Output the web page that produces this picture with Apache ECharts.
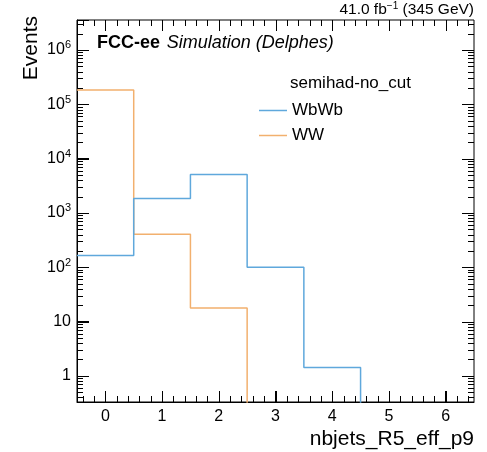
<!DOCTYPE html>
<html>
<head>
<meta charset="utf-8">
<script src="https://cdn.jsdelivr.net/npm/echarts@6/dist/echarts.min.js"></script>
<style>
  html, body { margin: 0; padding: 0; background: #fff; }
  #chart { width: 487px; height: 452px; }
</style>
</head>
<body>
<div id="chart"></div>
<script>
// 直方图数据（每个bin一个值）
const binCenters = [0, 1, 2, 3, 4, 5, 6];
const wbwbValues = [165, 1850, 5100, 100, 1.43, 0, 0];
const wwValues = [183000, 405, 17.7, 0, 0, 0, 0];

// 坐标轴刻度
const xMajorTicks = [0, 1, 2, 3, 4, 5, 6];
const yLabelTicks = [1, 10, 100, 1000, 10000, 100000, 1000000];

const yMin = 0.33;
const yMax = 3.56e6;
const xMin = -0.5;
const xMax = 6.5;

const font = '"Liberation Sans", Arial, Helvetica, sans-serif';
const blue = '#5fa8dc';
const orange = '#f2b06e';

// x次刻度：每0.2一个
const xMinorTicks = [];
for (let i = -2; i <= 32; i++) {
    const v = Math.round(i * 2) / 10;
    if (v > xMin && v < xMax && Math.abs(v - Math.round(v)) > 1e-6) xMinorTicks.push(v);
}
// y次刻度：2..9 × 10^k
const yMinorTicks = [];
for (let k = -1; k <= 6; k++) {
    for (let m = 2; m <= 9; m++) {
        const v = m * Math.pow(10, k);
        if (v > yMin && v < yMax) yMinorTicks.push(v);
    }
}

// 刻度列表：[值, 长度, 边]  边：0下 1上 2左 3右
const tickItems = [];
[0, 1].forEach(side => {
    xMajorTicks.forEach(v => tickItems.push([v, 11, side]));
    xMinorTicks.forEach(v => tickItems.push([v, 6, side]));
});
[2, 3].forEach(side => {
    yLabelTicks.forEach(v => tickItems.push([v, 12, side]));
    yMinorTicks.forEach(v => tickItems.push([v, 6, side]));
});

// 把bin值转成阶梯线的点（0值放到坐标范围以外，被裁掉）
function stepPoints(values) {
    const pts = values.map((v, i) => [binCenters[i] - 0.5, v > 0 ? v : yMin / 10]);
    const last = pts[pts.length - 1];
    pts.push([binCenters[binCenters.length - 1] + 0.5, last[1]]);
    return pts;
}

// 四边向内的刻度（ROOT风格）
function renderTick(params, api) {
    const cs = params.coordSys;
    const v = api.value(0), len = api.value(1), side = api.value(2);
    const style = { stroke: '#000', lineWidth: 1, opacity: 1 };
    if (side < 2) {
        const x = Math.round(api.coord([v, 1])[0]) + 0.5;
        const y0 = side === 0 ? cs.y + cs.height : cs.y;
        const y1 = side === 0 ? y0 - len : y0 + len;
        return { type: 'line', shape: { x1: x, y1: y0, x2: x, y2: y1 }, style: style };
    }
    const y = Math.round(api.coord([0, v])[1]) + 0.5;
    const x0 = side === 2 ? cs.x : cs.x + cs.width;
    const x1 = side === 2 ? x0 + len : x0 - len;
    return { type: 'line', shape: { x1: x0, y1: y, x2: x1, y2: y }, style: style };
}

const chart = echarts.init(document.getElementById('chart'));

chart.setOption({
    backgroundColor: '#fff',
    animation: false,
    grid: { left: 77, right: 13, top: 20, bottom: 50,
        show: true, borderColor: '#000', borderWidth: 1, backgroundColor: 'transparent' },
    xAxis: {
        type: 'value', min: xMin, max: xMax,
        axisLine: { show: true, onZero: false, lineStyle: { color: '#000', width: 1 } },
        axisTick: { show: true, inside: true, length: 11, customValues: xMajorTicks, lineStyle: { color: '#000' } },
        axisLabel: { show: true, customValues: xMajorTicks, color: '#000', fontSize: 16, fontFamily: font, margin: 7 },
        splitLine: { show: false }
    },
    yAxis: {
        type: 'log', min: yMin, max: yMax, logBase: 10,
        axisLine: { show: true, onZero: false, lineStyle: { color: '#000', width: 1 } },
        axisTick: { show: true, inside: true, length: 12, lineStyle: { color: '#000' } },
        axisLabel: {
            show: true, customValues: yLabelTicks, color: '#000', fontSize: 16, fontFamily: font, margin: 6,
            formatter: function (v) {
                const e = Math.round(Math.log10(v));
                if (e === 0) return '1';
                if (e === 1) return '10';
                return '10{s|' + e + '}';
            },
            rich: { s: { fontSize: 11, fontFamily: font, color: '#000', verticalAlign: 'top', padding: [0, 0, 9, 0] } }
        },
        splitLine: { show: false }
    },
    legend: {
        orient: 'vertical', left: 259, top: 102, itemGap: 8, padding: 0,
        icon: 'rect', itemWidth: 28, itemHeight: 1.5,
        textStyle: { fontSize: 17, fontFamily: font, color: '#000' },
        data: ['WbWb', 'WW']
    },
    series: [
        { name: 'WW', type: 'line', step: 'end', symbol: 'none', data: stepPoints(wwValues),
          lineStyle: { color: orange, width: 1.5 }, itemStyle: { color: orange } },
        { name: 'WbWb', type: 'line', step: 'end', symbol: 'none', data: stepPoints(wbwbValues),
          lineStyle: { color: blue, width: 1.5 }, itemStyle: { color: blue } },
        { name: 'ticks', type: 'custom', clip: false, z: 5, renderItem: renderTick, data: tickItems }
    ],
    graphic: [
        { type: 'text', left: 97, top: 34,
          style: { text: '{b|FCC-ee}  {i|Simulation (Delphes)}',
            rich: { b: { fontSize: 18, fontWeight: 'bold', fontFamily: font, fill: '#000' },
                    i: { fontSize: 18, fontStyle: 'italic', fontFamily: font, fill: '#000' } } } },
        { type: 'text', left: 290, top: 75, style: { text: 'semihad-no_cut', fontSize: 17, fontFamily: font, fill: '#000' } },
        { type: 'text', right: 13, top: 1,
          style: { text: '41.0 fb{s|−1} (345 GeV)', fontSize: 15.5, fontFamily: font, fill: '#000',
            rich: { s: { fontSize: 10, fontFamily: font, fill: '#000', verticalAlign: 'top', padding: [0, 0, 7, 0] } } } },
        { type: 'text', x: 31, y: 16, rotation: Math.PI / 2,
          style: { text: 'Events', fontSize: 21, fontFamily: font, fill: '#000', align: 'right', verticalAlign: 'middle' } },
        { type: 'text', x: 474, y: 439,
          style: { text: 'nbjets_R5_eff_p9', fontSize: 21, fontFamily: font, fill: '#000', align: 'right', verticalAlign: 'middle' } }
    ]
});
</script>
</body>
</html>
